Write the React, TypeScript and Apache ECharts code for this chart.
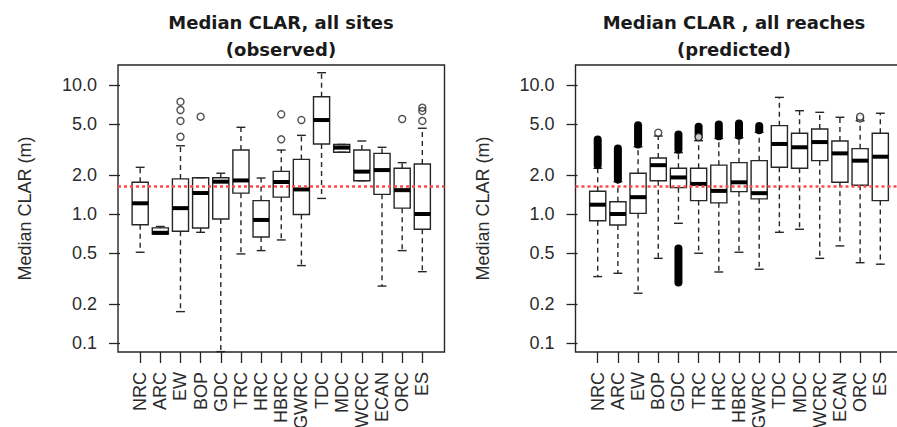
import React, { useEffect, useRef } from "react";
import * as echarts from "echarts";

const categories = ["NRC", "ARC", "EW", "BOP", "GDC", "TRC", "HRC", "HBRC", "GWRC", "TDC", "MDC", "WCRC", "ECAN", "ORC", "ES"];
const yTicks = [0.1, 0.2, 0.5, 1, 2, 5, 10];
const referenceLine = 1.63;
const titleLeft = ["Median CLAR, all sites", "(observed)"];
const titleRight = ["Median CLAR , all reaches", "(predicted)"];
const yName = "Median CLAR (m)";

// Observed (all sites)
const obsLo = [0.505, 0.70, 0.175, 0.721, 0.0857, 0.49, 0.52, 0.629, 0.398, 1.32, 3.01, 1.81, 0.276, 0.52, 0.357];
const obsQ1 = [0.826, 0.70, 0.734, 0.779, 0.915, 1.45, 0.663, 1.35, 0.99, 3.49, 3.01, 1.81, 1.42, 1.11, 0.761];
const obsMed = [1.21, 0.715, 1.11, 1.455, 1.78, 1.82, 0.899, 1.77, 1.55, 5.35, 3.27, 2.13, 2.19, 1.53, 1.0];
const obsQ3 = [1.76, 0.78, 1.87, 1.91, 1.91, 3.13, 1.27, 2.14, 2.65, 8.11, 3.46, 3.13, 2.95, 2.26, 2.44];
const obsHi = [2.30, 0.80, 3.38, 1.91, 2.07, 4.70, 1.90, 3.13, 4.07, 12.45, 3.46, 3.68, 3.29, 2.50, 4.62];
const obsOutliers = [
  [3, 3.97], [3, 5.26], [3, 6.40], [3, 7.42],
  [4, 5.68],
  [8, 3.79], [8, 5.93],
  [9, 5.35],
  [14, 5.45],
  [15, 5.26], [15, 6.29], [15, 6.67],
];

// Predicted (all reaches)
const predLo = [0.327, 0.347, 0.243, 0.453, 0.847, 0.496, 0.355, 0.505, 0.373, 0.721, 0.761, 0.453, 0.565, 0.419, 0.408];
const predQ1 = [0.887, 0.822, 1.01, 1.81, 1.60, 1.27, 1.22, 1.49, 1.31, 2.30, 2.26, 2.59, 1.76, 1.67, 1.27];
const predMed = [1.18, 1.0, 1.35, 2.39, 1.92, 1.71, 1.51, 1.76, 1.45, 3.49, 3.29, 3.61, 2.95, 2.59, 2.78];
const predQ3 = [1.50, 1.245, 2.07, 2.72, 2.26, 2.26, 2.39, 2.50, 2.59, 4.84, 4.22, 4.56, 3.68, 3.21, 4.22];
const predHi = [2.26, 1.78, 3.32, 4.02, 2.99, 3.70, 3.85, 3.90, 4.30, 8.02, 6.32, 6.14, 5.62, 5.28, 6.04];
const predOutliers = [
  [4, 4.27],
  [6, 3.95],
  [14, 5.5], [14, 5.68],
];
// dense runs of outliers: [category, from, to]
const predOutlierRuns = [
  [1, 2.40, 3.78],
  [2, 1.85, 3.22],
  [3, 3.45, 4.88],
  [5, 3.15, 4.13],
  [5, 0.294, 0.54],
  [6, 3.95, 4.74],
  [7, 4.0, 4.94],
  [8, 4.05, 5.03],
  [9, 4.45, 4.80],
];

const FONT = "'Liberation Sans', Arial, Helvetica, sans-serif";
const INK = "#262626";
const tickPos = categories.map((_, i) => i + 1);

function rows(lo: number[], q1: number[], med: number[], q3: number[], hi: number[]) {
  return categories.map((_, i) => [i + 1, lo[i], q1[i], med[i], q3[i], hi[i]]);
}

function renderBox(_params: any, api: any) {
  const x = api.value(0);
  const lo = api.value(1), q1 = api.value(2), med = api.value(3), q3 = api.value(4), hi = api.value(5);
  const [cx, yMed] = api.coord([x, med]);
  const left = api.coord([x - 0.4, med])[0];
  const right = api.coord([x + 0.4, med])[0];
  const capL = api.coord([x - 0.22, med])[0];
  const capR = api.coord([x + 0.22, med])[0];
  const yLo = api.coord([x, lo])[1];
  const yQ1 = api.coord([x, q1])[1];
  const yQ3 = api.coord([x, q3])[1];
  const yHi = api.coord([x, hi])[1];
  const thin = { stroke: INK, lineWidth: 1.4 };
  const dashed = { stroke: INK, lineWidth: 1.4, lineDash: [5, 4] };
  return {
    type: "group",
    children: [
      { type: "line", shape: { x1: cx, y1: yQ3, x2: cx, y2: yHi }, style: dashed },
      { type: "line", shape: { x1: cx, y1: yQ1, x2: cx, y2: yLo }, style: dashed },
      { type: "line", shape: { x1: capL, y1: yHi, x2: capR, y2: yHi }, style: thin },
      { type: "line", shape: { x1: capL, y1: yLo, x2: capR, y2: yLo }, style: thin },
      { type: "rect", shape: { x: left, y: yQ3, width: right - left, height: yQ1 - yQ3 }, style: { fill: "rgba(0,0,0,0)", stroke: INK, lineWidth: 1.4 } },
      { type: "line", shape: { x1: left, y1: yMed, x2: right, y2: yMed }, style: { stroke: "#000", lineWidth: 4 } },
    ],
  };
}

function renderRun(_params: any, api: any) {
  const x = api.value(0);
  const a = api.coord([x, api.value(1)]);
  const b = api.coord([x, api.value(2)]);
  return {
    type: "line",
    shape: { x1: a[0], y1: a[1], x2: b[0], y2: b[1] },
    style: { stroke: "#000", lineWidth: 8, lineCap: "round" },
  };
}

function xAxis(gridIndex: number) {
  return {
    type: "value",
    gridIndex,
    min: -0.1,
    max: 16.1,
    axisLine: { show: false },
    splitLine: { show: false },
    axisTick: { show: true, customValues: tickPos, length: 11, lineStyle: { color: INK, width: 1.3 } },
    axisLabel: {
      customValues: tickPos,
      rotate: 90,
      margin: 20,
      fontSize: 18,
      fontFamily: FONT,
      color: "#2b2b2b",
      formatter: (v: number) => categories[Math.round(v) - 1] ?? "",
    },
  };
}

function yAxis(gridIndex: number) {
  return {
    type: "log",
    logBase: 10,
    gridIndex,
    min: 0.0851,
    max: 14.29,
    axisLine: { show: false },
    splitLine: { show: false },
    axisTick: { show: true, customValues: yTicks, length: 11, lineStyle: { color: INK, width: 1.3 } },
    axisLabel: {
      customValues: yTicks,
      margin: 21,
      fontSize: 18,
      fontFamily: FONT,
      color: "#2b2b2b",
      formatter: (v: number) => Number(v).toFixed(1),
    },
    name: yName,
    nameLocation: "middle",
    nameRotate: 90,
    nameGap: 84,
    nameTextStyle: { fontSize: 18, fontFamily: FONT, color: "#2b2b2b" },
  };
}

function refLine() {
  return {
    silent: true,
    symbol: ["none", "none"],
    label: { show: false },
    lineStyle: { color: "#ff4a4a", type: [3, 3], width: 2.5 },
    data: [{ yAxis: referenceLine }],
  };
}

function titleTexts(lines: string[], cx: number) {
  return lines.map((t, i) => ({
    type: "text",
    x: cx,
    y: 22 + i * 27,
    style: {
      text: t,
      fontSize: 18,
      fontWeight: "bold",
      fontFamily: "'DejaVu Sans', Verdana, sans-serif",
      fill: "#1a1a1a",
      textAlign: "center",
      textVerticalAlign: "middle",
    },
  }));
}

export default function App() {
  const ref = useRef<HTMLDivElement>(null);
  useEffect(() => {
    document.body.style.margin = "0";
    if (!ref.current) return;
    const chart = echarts.init(ref.current, null, { renderer: "svg" });
    chart.setOption({
      animation: false,
      backgroundColor: "#ffffff",
      grid: [
        { left: 118, top: 65, width: 326.5, height: 287, show: true, borderColor: INK, borderWidth: 1.4, outerBoundsMode: "none", containLabel: false },
        { left: 575.5, top: 65, width: 327, height: 287, show: true, borderColor: INK, borderWidth: 1.4, outerBoundsMode: "none", containLabel: false },
      ],
      xAxis: [xAxis(0), xAxis(1)],
      yAxis: [yAxis(0), yAxis(1)],
      graphic: [...titleTexts(titleLeft, 281), ...titleTexts(titleRight, 734)],
      series: [
        {
          type: "custom",
          xAxisIndex: 0,
          yAxisIndex: 0,
          renderItem: renderBox,
          encode: { x: 0, y: [1, 2, 3, 4, 5] },
          data: rows(obsLo, obsQ1, obsMed, obsQ3, obsHi),
          markLine: refLine(),
          z: 2,
        },
        {
          type: "scatter",
          xAxisIndex: 0,
          yAxisIndex: 0,
          symbol: "circle",
          symbolSize: 7,
          itemStyle: { color: "rgba(0,0,0,0)", borderColor: INK, borderWidth: 1.4 },
          data: obsOutliers,
          z: 3,
        },
        {
          type: "custom",
          xAxisIndex: 1,
          yAxisIndex: 1,
          renderItem: renderBox,
          encode: { x: 0, y: [1, 2, 3, 4, 5] },
          data: rows(predLo, predQ1, predMed, predQ3, predHi),
          markLine: refLine(),
          z: 2,
        },
        {
          type: "custom",
          xAxisIndex: 1,
          yAxisIndex: 1,
          renderItem: renderRun,
          encode: { x: 0, y: [1, 2] },
          data: predOutlierRuns,
          z: 3,
        },
        {
          type: "scatter",
          xAxisIndex: 1,
          yAxisIndex: 1,
          symbol: "circle",
          symbolSize: 7,
          itemStyle: { color: "#ffffff", borderColor: INK, borderWidth: 1.4 },
          data: predOutliers,
          z: 4,
        },
      ],
    });
    return () => chart.dispose();
  }, []);
  return <div ref={ref} style={{ width: 897, height: 427 }} />;
}
